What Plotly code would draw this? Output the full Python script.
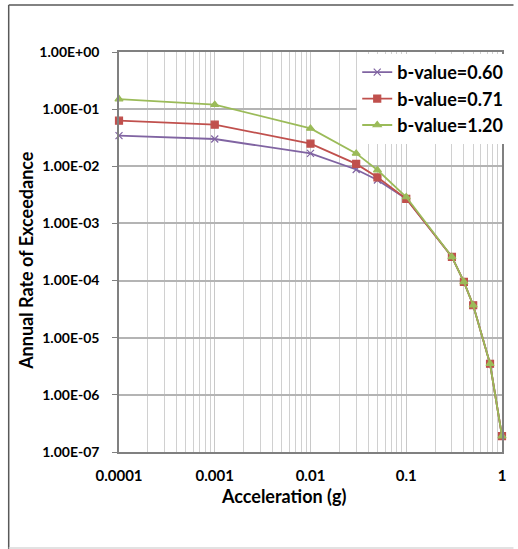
import plotly.graph_objects as go

accel = [0.0001, 0.001, 0.01, 0.03, 0.05, 0.1, 0.3, 0.4, 0.5, 0.75, 1.0]
rate_b060 = [0.0343, 0.030, 0.0168, 0.0088, 0.00575, 0.0027, 2.6e-4, 9.5e-5, 3.7e-5, 3.5e-6, 1.9e-7]
rate_b071 = [0.0628, 0.0535, 0.0249, 0.011, 0.0064, 0.0027, 2.6e-4, 9.5e-5, 3.7e-5, 3.5e-6, 1.9e-7]
rate_b120 = [0.150, 0.120, 0.046, 0.0168, 0.0086, 0.0029, 2.6e-4, 9.5e-5, 3.7e-5, 3.5e-6, 1.9e-7]
series_names = ["b-value=0.60", "b-value=0.71", "b-value=1.20"]

y_tickvals = [1e0, 1e-1, 1e-2, 1e-3, 1e-4, 1e-5, 1e-6, 1e-7]
y_ticktext = ["1.00E+00", "1.00E-01", "1.00E-02", "1.00E-03", "1.00E-04", "1.00E-05", "1.00E-06", "1.00E-07"]
x_tickvals = [0.0001, 0.001, 0.01, 0.1, 1]
x_ticktext = ["0.0001", "0.001", "0.01", "0.1", "1"]
x_title = "Acceleration (g)"
y_title = "Annual Rate of Exceedance"

minor_x = [m * 10 ** e for e in range(-4, 0) for m in range(2, 10)]

colors = ["#8064A2", "#C0504D", "#9BBB59"]
symbols = ["x-thin-open", "square", "triangle-up"]
sizes = [7, 7, 7]

fig = go.Figure()
for name, vals, c, s, sz in zip(series_names, [rate_b060, rate_b071, rate_b120], colors, symbols, sizes):
    fig.add_trace(go.Scatter(
        x=accel, y=vals, name=name, mode="lines+markers",
        line=dict(color=c, width=1.8),
        marker=dict(symbol=s, size=sz, color=c, line=dict(color=c, width=1.2)),
        cliponaxis=False,
    ))

fig.update_layout(
    width=518, height=549,
    margin=dict(l=119, r=10, t=52, b=97),
    paper_bgcolor="white", plot_bgcolor="white",
    font=dict(family="Lato", size=14, color="black", weight="bold"),
    showlegend=True,
    legend=dict(x=0.622, y=0.995, xanchor="left", yanchor="top",
                bgcolor="white", font=dict(size=18, weight="bold"),
                tracegroupgap=0, itemwidth=30),
    shapes=[
        dict(type="line", xref="paper", yref="paper", x0=-0.288, x1=1.03, y0=1.1175, y1=1.1175,
             line=dict(color="#595959", width=1.5)),
        dict(type="line", xref="paper", yref="paper", x0=-0.288, x1=-0.288, y0=1.1175, y1=-0.25,
             line=dict(color="#595959", width=1.5)),
        dict(type="line", xref="paper", yref="paper", x0=-0.288, x1=1.03, y0=-0.24, y1=-0.24,
             line=dict(color="#d9d9d9", width=1.5)),
    ],
    annotations=[
        dict(text=x_title, xref="paper", yref="paper", x=0.43, y=-0.11,
             xanchor="center", yanchor="middle", showarrow=False,
             font=dict(size=18, weight="bold")),
        dict(text=y_title, xref="paper", yref="paper", x=-0.2416, y=0.479,
             xanchor="center", yanchor="middle", showarrow=False, textangle=-90,
             font=dict(size=18, weight="bold")),
    ],
)

fig.update_xaxes(
    type="log", range=[-4, 0],
    tickvals=x_tickvals, ticktext=x_ticktext, tickfont=dict(size=15),
    showgrid=True, gridcolor="#c8c8c8", gridwidth=1,
    minor=dict(tickvals=minor_x, showgrid=True, gridcolor="#d0d0d0", gridwidth=1, ticks=""),
    showline=True, linecolor="#808080", linewidth=1.5, mirror=True,
    ticks="", ticklabelstandoff=9,
    zeroline=False,
)
fig.update_yaxes(
    type="log", range=[-7, 0],
    tickvals=y_tickvals, ticktext=y_ticktext, tickfont=dict(size=14),
    showgrid=True, gridcolor="#b4b4b4", gridwidth=1.5,
    showline=True, linecolor="#808080", linewidth=1.5, mirror=True,
    ticks="outside", ticklen=5, tickcolor="#808080", ticklabelstandoff=10,
    zeroline=False,
)

fig.write_html("out.html", post_script="document.body.style.margin='0';",
               config={"displayModeBar": False})
